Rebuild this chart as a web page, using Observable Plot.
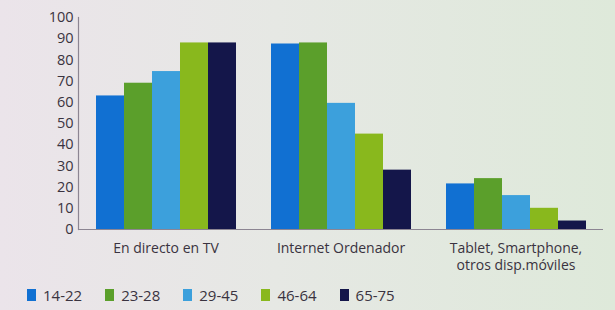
<!DOCTYPE html>
<html>
<head>
<meta charset="utf-8">
<script src="https://cdn.jsdelivr.net/npm/d3@7"></script>
<script src="https://cdn.jsdelivr.net/npm/@observablehq/plot@0.6"></script>
<style>
  html, body { margin: 0; padding: 0; }
  body {
    width: 615px; height: 310px; overflow: hidden;
    background: linear-gradient(90deg, #ebe4ea 0%, #e6e8e4 45%, #dee9da 100%);
    font-family: "Open Sans", sans-serif; color: #3a3340;
  }
  #legend { display: flex; align-items: center; padding: 7px 0 0 27px; font-size: 15px; }
  #legend .item { display: flex; align-items: center; margin-right: 23px; }
  #legend .sw { width: 9px; height: 12px; margin-right: 7px; }
</style>
</head>
<body>
<div id="chart"></div>
<div id="legend"></div>
<script>
const groups = ["En directo en TV", "Internet Ordenador", "Tablet, Smartphone,\notros disp.móviles"];
const ages = ["14-22", "23-28", "29-45", "46-64", "65-75"];
const colors = ["#1170d2", "#5b9f2b", "#3ca0dc", "#89b81d", "#14164a"];
const tvValues = [63, 69, 74.5, 88, 88];
const internetValues = [87.5, 88, 59.5, 45, 28];
const mobileValues = [21.5, 24, 16, 10, 4];
const yTicks = [0, 10, 20, 30, 40, 50, 60, 70, 80, 90, 100];

const series = [tvValues, internetValues, mobileValues];
const data = groups.flatMap((g, gi) => ages.map((a, ai) => ({group: g, age: a, value: series[gi][ai]})));

const chart = Plot.plot({
  width: 615,
  height: 278,
  marginLeft: 78,
  marginRight: 12,
  marginTop: 17,
  marginBottom: 49,
  style: {background: "transparent", fontFamily: "Open Sans, sans-serif", color: "#3a3340"},
  fx: {domain: groups, padding: 0},
  x: {domain: ages, paddingInner: 0, paddingOuter: 0.625, axis: null},
  y: {domain: [0, 100]},
  color: {domain: ages, range: colors},
  marks: [
    Plot.barY(data, {fx: "group", x: "age", y: "value", fill: "age", inset: 0}),
    Plot.ruleY([0], {stroke: "#8c8592", strokeWidth: 1.2}),
    Plot.frame({anchor: "left", facetAnchor: "left", stroke: "#8c8592", strokeWidth: 1.2}),
    Plot.axisY({ticks: yTicks, tickSize: 0, tickPadding: 5, fontSize: 14.5, label: null, fill: "#3a3340"}),
    Plot.axisFx({anchor: "bottom", tickSize: 0, tickPadding: 11, fontSize: 14, lineHeight: 1.25, label: null, fill: "#3a3340"})
  ]
});
document.getElementById("chart").appendChild(chart);

const legend = document.getElementById("legend");
ages.forEach((a, i) => {
  const item = document.createElement("div");
  item.className = "item";
  const sw = document.createElement("div");
  sw.className = "sw";
  sw.style.background = colors[i];
  const t = document.createElement("span");
  t.textContent = a;
  item.appendChild(sw);
  item.appendChild(t);
  legend.appendChild(item);
});
</script>
</body>
</html>
